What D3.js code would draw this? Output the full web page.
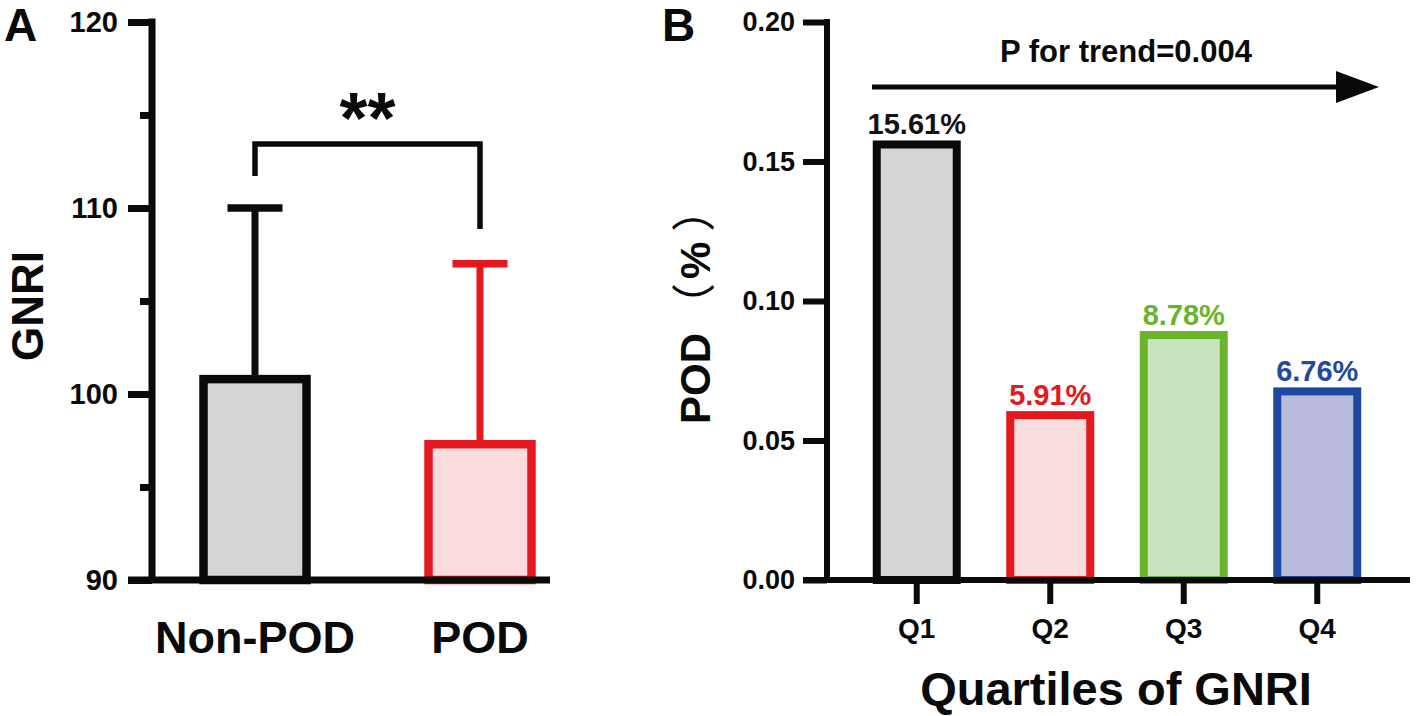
<!DOCTYPE html>
<html>
<head>
<meta charset="utf-8">
<script src="https://cdn.jsdelivr.net/npm/d3@7"></script>
<style>
  html, body { margin: 0; padding: 0; background: #fff; }
  svg { display: block; font-family: "Liberation Sans", Arial, Helvetica, sans-serif; font-weight: bold; }
</style>
</head>
<body>
<svg id="chart" width="1418" height="716"></svg>
<script>
// ---------- DATA ----------
// Panel A
const groupsA = ["Non-POD", "POD"];
const meanA = [100.8, 97.3];
const errTopA = [110.0, 107.0];
const ticksA = [90, 100, 110, 120];
const minorTicksA = [95, 105, 115];
const sigLabel = "**";
// Panel B
const quartiles = ["Q1", "Q2", "Q3", "Q4"];
const podRate = [0.1561, 0.0591, 0.0878, 0.0676];
const podLabels = ["15.61%", "5.91%", "8.78%", "6.76%"];
const ticksB = [0.00, 0.05, 0.10, 0.15, 0.20];
const trendLabel = "P for trend=0.004";

// ---------- STYLE ----------
const strokeA = ["#0a0a0a", "#e5171f"];
const fillA = ["#d4d4d4", "#fadcdd"];
const strokeB = ["#0a0a0a", "#e5171f", "#6ab42d", "#1e48a0"];
const fillB = ["#d4d4d4", "#f9dcdc", "#c8e4bf", "#b9badc"];
const labelColB = ["#111111", "#e5171f", "#6ab42d", "#1f4a9e"];

const svg = d3.select("#chart");
const AX = 7; // axis line width

// ================= PANEL A =================
const axA = 152, baseY = 580, topY = 22;
const yA = d3.scaleLinear().domain([90, 120]).range([baseY, topY]);
const xA = d3.scalePoint().domain(groupsA).range([255, 480]);
const gA = svg.append("g");

// bars
const barWA = 103;
gA.selectAll("rect.bar").data(groupsA).join("rect")
  .attr("class", "bar")
  .attr("x", d => xA(d) - barWA / 2)
  .attr("y", (d, i) => yA(meanA[i]))
  .attr("width", barWA)
  .attr("height", (d, i) => yA(90) - yA(meanA[i]))
  .attr("fill", (d, i) => fillA[i])
  .attr("stroke", (d, i) => strokeA[i])
  .attr("stroke-width", 8.5);

// error bars
gA.selectAll("line.whisk").data(groupsA).join("line")
  .attr("x1", d => xA(d)).attr("x2", d => xA(d))
  .attr("y1", (d, i) => yA(meanA[i]) - 4)
  .attr("y2", (d, i) => yA(errTopA[i]))
  .attr("stroke", (d, i) => strokeA[i]).attr("stroke-width", 7);
gA.selectAll("line.cap").data(groupsA).join("line")
  .attr("x1", d => xA(d) - 27.5).attr("x2", d => xA(d) + 27.5)
  .attr("y1", (d, i) => yA(errTopA[i]))
  .attr("y2", (d, i) => yA(errTopA[i]))
  .attr("stroke", (d, i) => strokeA[i]).attr("stroke-width", 7.5);

// axes
const yAxisA = d3.axisLeft(yA).tickValues(ticksA).tickSize(24).tickSizeOuter(0).tickPadding(10);
const gyA = gA.append("g").attr("transform", `translate(${axA},0)`).call(yAxisA);
gyA.select(".domain").remove();
gyA.selectAll(".tick line").attr("stroke", "#0a0a0a").attr("stroke-width", AX);
gyA.selectAll(".tick text").attr("font-size", 29).attr("fill", "#0a0a0a")
  .attr("font-family", "'Liberation Sans', Arial, sans-serif").attr("font-weight", "bold");
const gyAm = gA.append("g").attr("transform", `translate(${axA},0)`)
  .call(d3.axisLeft(yA).tickValues(minorTicksA).tickSize(12).tickSizeOuter(0).tickFormat(""));
gyAm.select(".domain").remove();
gyAm.selectAll(".tick line").attr("stroke", "#0a0a0a").attr("stroke-width", AX);
gA.append("line").attr("x1", axA).attr("x2", axA).attr("y1", yA(120) - 3.5).attr("y2", yA(90))
  .attr("stroke", "#0a0a0a").attr("stroke-width", AX);
gA.append("line").attr("x1", axA - 24).attr("x2", 550).attr("y1", yA(90)).attr("y2", yA(90))
  .attr("stroke", "#0a0a0a").attr("stroke-width", AX);

// x labels
gA.selectAll("text.xlab").data(groupsA).join("text")
  .attr("x", d => xA(d)).attr("y", 653)
  .attr("text-anchor", "middle").attr("font-size", 45).attr("fill", "#0a0a0a")
  .text(d => d);

// y label
gA.append("text").attr("transform", "translate(43,306) rotate(-90)")
  .attr("text-anchor", "middle").attr("font-size", 44).attr("fill", "#0a0a0a").text("GNRI");

// significance bracket
const bY = 144;
gA.append("path")
  .attr("d", `M${xA(groupsA[0])},176 L${xA(groupsA[0])},${bY} L${xA(groupsA[1])},${bY} L${xA(groupsA[1])},229`)
  .attr("fill", "none").attr("stroke", "#0a0a0a").attr("stroke-width", 5.5);
gA.append("text").attr("x", (xA(groupsA[0]) + xA(groupsA[1])) / 2).attr("y", 143)
  .attr("text-anchor", "middle").attr("font-size", 72).attr("fill", "#0a0a0a").text(sigLabel);

// panel letter
svg.append("text").attr("x", 4).attr("y", 41).attr("font-size", 46).attr("fill", "#0a0a0a").text("A");

// ================= PANEL B =================
const axB = 827;
const yB = d3.scaleLinear().domain([0, 0.2]).range([baseY, topY]);
const xB = d3.scaleBand().domain(quartiles).range([850, 1384]);
const gB = svg.append("g");
const barWB = 80;

gB.selectAll("rect.bar").data(quartiles).join("rect")
  .attr("x", d => xB(d) + xB.bandwidth() / 2 - barWB / 2)
  .attr("y", (d, i) => yB(podRate[i]))
  .attr("width", barWB)
  .attr("height", (d, i) => yB(0) - yB(podRate[i]))
  .attr("fill", (d, i) => fillB[i])
  .attr("stroke", (d, i) => strokeB[i])
  .attr("stroke-width", 8);

gB.selectAll("text.val").data(quartiles).join("text")
  .attr("x", d => xB(d) + xB.bandwidth() / 2)
  .attr("y", (d, i) => yB(podRate[i]) - 10)
  .attr("text-anchor", "middle").attr("font-size", 29)
  .attr("fill", (d, i) => labelColB[i])
  .text((d, i) => podLabels[i]);

const gyB = gB.append("g").attr("transform", `translate(${axB},0)`)
  .call(d3.axisLeft(yB).tickValues(ticksB).tickSize(24).tickSizeOuter(0).tickPadding(8).tickFormat(d3.format(".2f")));
gyB.select(".domain").remove();
gyB.selectAll(".tick line").attr("stroke", "#0a0a0a").attr("stroke-width", 6);
gyB.selectAll(".tick text").attr("font-size", 27).attr("fill", "#0a0a0a")
  .attr("font-family", "'Liberation Sans', Arial, sans-serif").attr("font-weight", "bold");
gB.append("line").attr("x1", axB).attr("x2", axB).attr("y1", yB(0.2) - 3).attr("y2", yB(0))
  .attr("stroke", "#0a0a0a").attr("stroke-width", 6);

const gxB = gB.append("g").attr("transform", `translate(0,${baseY})`)
  .call(d3.axisBottom(xB).tickSize(24).tickSizeOuter(0).tickPadding(14));
gxB.select(".domain").remove();
gxB.selectAll(".tick line").attr("stroke", "#0a0a0a").attr("stroke-width", 6);
gxB.selectAll(".tick text").attr("font-size", 28).attr("fill", "#0a0a0a")
  .attr("font-family", "'Liberation Sans', Arial, sans-serif").attr("font-weight", "bold");
gB.append("line").attr("x1", axB - 24).attr("x2", 1410).attr("y1", yB(0)).attr("y2", yB(0))
  .attr("stroke", "#0a0a0a").attr("stroke-width", 6);

// axis titles
gB.append("text").attr("x", 1116).attr("y", 705).attr("text-anchor", "middle")
  .attr("font-size", 47).attr("fill", "#0a0a0a").text("Quartiles of GNRI");
const podTitle = gB.append("text").attr("transform", "translate(710,424) rotate(-90)")
  .attr("text-anchor", "start").attr("font-size", 42).attr("fill", "#0a0a0a");
podTitle.append("tspan").text("POD");
podTitle.append("tspan").attr("dx", 6).attr("font-size", 44)
  .attr("font-family", "'Noto Sans CJK SC', sans-serif").attr("font-weight", "normal").text("（");
podTitle.append("tspan").attr("dx", 4).text("%");
podTitle.append("tspan").attr("dx", 10).attr("font-size", 44)
  .attr("font-family", "'Noto Sans CJK SC', sans-serif").attr("font-weight", "normal").text("）");

// trend arrow
const arrY = 87;
gB.append("line").attr("x1", 872).attr("x2", 1340).attr("y1", arrY).attr("y2", arrY)
  .attr("stroke", "#0a0a0a").attr("stroke-width", 5);
gB.append("path").attr("d", `M1336,${arrY - 16} L1379,${arrY} L1336,${arrY + 16} Z`).attr("fill", "#0a0a0a");
gB.append("text").attr("x", 1126).attr("y", 62).attr("text-anchor", "middle")
  .attr("font-size", 31).attr("fill", "#0a0a0a").text(trendLabel);

svg.append("text").attr("x", 662).attr("y", 41).attr("font-size", 46).attr("fill", "#0a0a0a").text("B");
</script>
</body>
</html>
